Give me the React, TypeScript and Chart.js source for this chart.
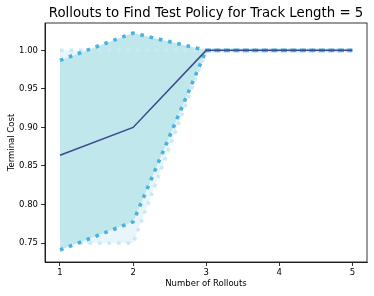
import React, { useEffect, useRef } from "react";
import { Chart, registerables } from "chart.js";

Chart.register(...registerables);

const titleText = "Rollouts to Find Test Policy for Track Length = 5";
const xLabel = "Number of Rollouts";
const yLabel = "Terminal Cost";

const rollouts = [1, 2, 3, 4, 5];
const meanCost = [0.864, 0.9, 1.0, 1.0, 1.0];
const stdUpper = [0.987, 1.0225, 1.0, 1.0, 1.0];
const stdLower = [0.741, 0.7775, 1.0, 1.0, 1.0];
const maxCost = [1.0, 1.0, 1.0, 1.0, 1.0];
const minCost = [0.75, 0.75, 1.0, 1.0, 1.0];

const xTicks = [1, 2, 3, 4, 5];
const yTicks = [0.75, 0.8, 0.85, 0.9, 0.95, 1.0];

const FONT = "'DejaVu Sans', sans-serif";

const pts = (ys: number[]) => rollouts.map((x, i) => ({ x, y: ys[i] }));

export default function App() {
  const ref = useRef<HTMLCanvasElement | null>(null);

  useEffect(() => {
    if (!ref.current) return;
    const framePlugin = {
      id: "frame",
      afterDraw(chart: any) {
        const { ctx, chartArea: a } = chart;
        ctx.save();
        ctx.strokeStyle = "#000";
        ctx.lineWidth = 0.8;
        ctx.strokeRect(a.left, a.top, a.right - a.left, a.bottom - a.top);
        ctx.fillStyle = "#000";
        ctx.font = `13.3px ${FONT}`;
        ctx.textAlign = "center";
        ctx.textBaseline = "alphabetic";
        ctx.fillText(titleText, (a.left + a.right) / 2, 17);
        ctx.restore();
      },
    };
    const dotted = [3.6, 5.9];
    const chart = new Chart(ref.current, {
      type: "line",
      data: {
        datasets: [
          {
            label: "mean",
            data: pts(meanCost),
            borderColor: "#3d4a8c",
            borderWidth: 1.5,
            pointRadius: 0,
            fill: false,
          },
          {
            label: "upper",
            data: pts(stdUpper),
            borderColor: "#4bb1de",
            borderWidth: 3.6,
            borderDash: dotted,
            borderCapStyle: "butt",
            pointRadius: 0,
            backgroundColor: "#bfe7ec",
            fill: 2,
          },
          {
            label: "lower",
            data: pts(stdLower),
            borderColor: "#4bb1de",
            borderWidth: 3.6,
            borderDash: dotted,
            borderCapStyle: "butt",
            pointRadius: 0,
            fill: false,
          },
          {
            label: "max",
            data: pts(maxCost),
            borderColor: "#cbe9f4",
            borderWidth: 3.6,
            borderDash: dotted,
            borderCapStyle: "butt",
            pointRadius: 0,
            backgroundColor: "#e8f6f9",
            fill: 4,
          },
          {
            label: "min",
            data: pts(minCost),
            borderColor: "#cbe9f4",
            borderWidth: 3.6,
            borderDash: dotted,
            borderCapStyle: "butt",
            pointRadius: 0,
            fill: false,
          },
        ],
      },
      options: {
        responsive: false,
        animation: false,
        layout: { padding: { top: 23, right: 7, left: 0, bottom: 0 } },
        plugins: {
          legend: { display: false },
          tooltip: { enabled: false },
          filler: { drawTime: "beforeDatasetsDraw" },
        },
        scales: {
          x: {
            type: "linear",
            min: 0.795,
            max: 5.2,
            afterBuildTicks: (s: any) => {
              s.ticks = xTicks.map((v) => ({ value: v }));
            },
            afterFit: (s: any) => {
              s.height = 34;
            },
            ticks: {
              color: "#000",
              font: { family: FONT, size: 8.5 },
              padding: 2,
              maxRotation: 0,
              callback: (v: any) => String(v),
            },
            grid: { drawOnChartArea: false, drawTicks: true, tickLength: 4, color: "#000", lineWidth: 0.8 },
            border: { display: true, color: "#000", width: 0.8 },
            title: {
              display: true,
              text: xLabel,
              color: "#000",
              font: { family: FONT, size: 8.5 },
              padding: { top: 0, bottom: 7 },
            },
          },
          y: {
            type: "linear",
            min: 0.7254,
            max: 1.0355,
            afterBuildTicks: (s: any) => {
              s.ticks = yTicks.map((v) => ({ value: v }));
            },
            afterFit: (s: any) => {
              s.width = 45;
            },
            ticks: {
              color: "#000",
              font: { family: FONT, size: 8.5 },
              padding: 3,
              callback: (v: any) => Number(v).toFixed(2),
            },
            grid: { drawOnChartArea: false, drawTicks: true, tickLength: 4, color: "#000", lineWidth: 0.8 },
            border: { display: true, color: "#000", width: 0.8 },
            title: {
              display: true,
              text: yLabel,
              color: "#000",
              font: { family: FONT, size: 8.5 },
              padding: { top: 6.4, bottom: 0 },
            },
          },
        },
      },
      plugins: [framePlugin],
    } as any);
    return () => chart.destroy();
  }, []);

  return (
    <div style={{ position: "fixed", left: 0, top: 0, width: 374, height: 296, background: "#fff" }}>
      <canvas ref={ref} width={374} height={296} style={{ width: 374, height: 296, display: "block" }} />
    </div>
  );
}
